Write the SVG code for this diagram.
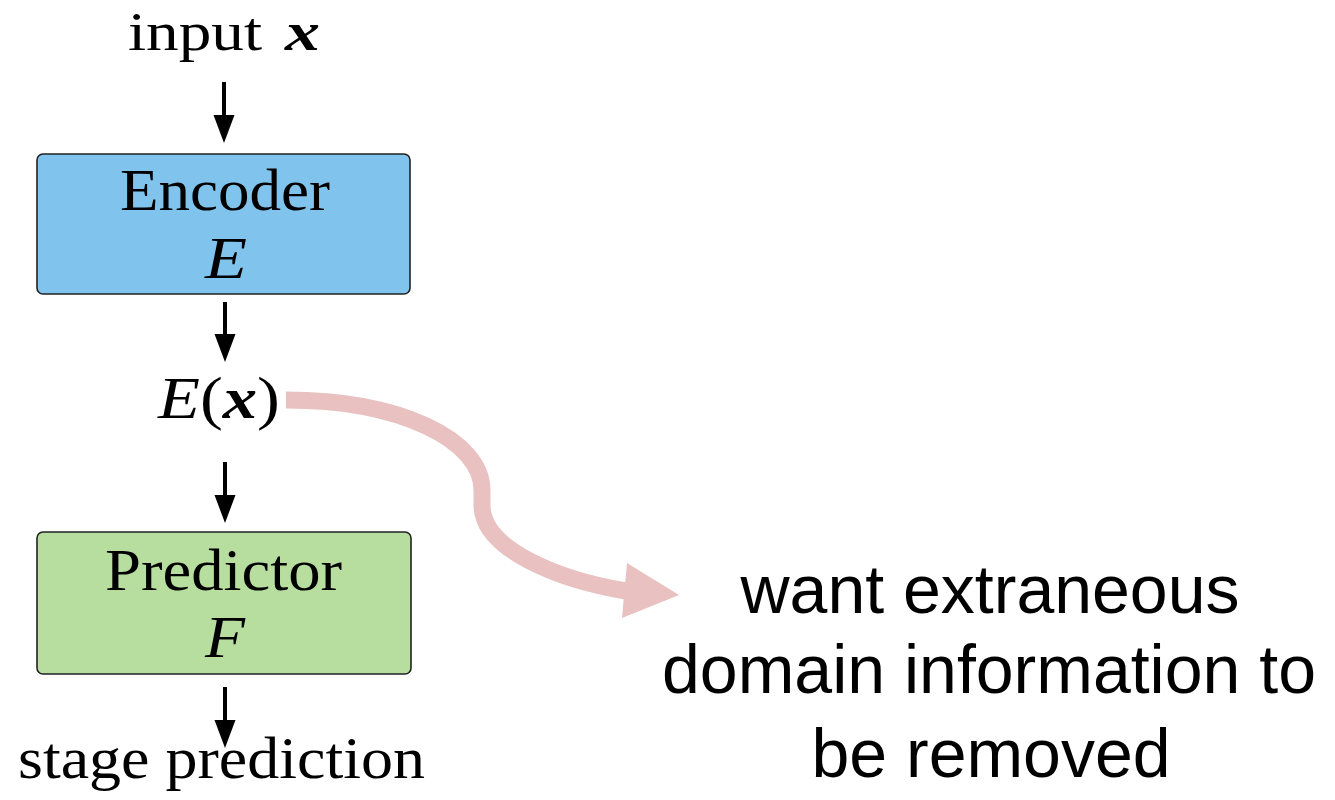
<svg xmlns="http://www.w3.org/2000/svg" width="1335" height="800" viewBox="0 0 1335 800">
  <defs>
    <style>
      .serif { font-family: "Liberation Serif", "Times New Roman", serif; font-size: 59px; fill: #000; }
      .small { font-size: 55px; }
      .it { font-style: italic; }
      .bi { font-style: italic; font-weight: bold; }
      .sans { font-family: "Liberation Sans", Arial, sans-serif; font-size: 68px; fill: #000; text-anchor: middle; }
      .box { stroke: #222; stroke-width: 1.6; }
      .shaft { stroke: #000; stroke-width: 4; fill: none; }
      .head { fill: #000; }
    </style>
  </defs>
  <rect width="1335" height="800" fill="#fff"/>

  <!-- input label -->
  <g id="input">
    <text class="serif small" x="128" y="50" textLength="134" lengthAdjust="spacingAndGlyphs">input</text>
    <text class="serif small bi" x="285" y="50" textLength="35" lengthAdjust="spacingAndGlyphs">x</text>
  </g>

  <!-- encoder block -->
  <g id="encoder">
    <rect class="box" x="37" y="154" width="373" height="140" rx="6" fill="#80c4ed"/>
    <text class="serif" x="120" y="210" textLength="210" lengthAdjust="spacingAndGlyphs">Encoder</text>
    <text class="serif it" x="205" y="278" textLength="42" lengthAdjust="spacingAndGlyphs">E</text>
  </g>

  <!-- latent representation -->
  <g id="latent">
    <text class="serif" x="158" y="418" textLength="122" lengthAdjust="spacingAndGlyphs"><tspan class="it">E</tspan>(<tspan class="bi">x</tspan>)</text>
  </g>

  <!-- predictor block -->
  <g id="predictor">
    <rect class="box" x="37" y="532" width="374" height="142" rx="6" fill="#b7dd9f"/>
    <text class="serif" x="105" y="590" textLength="237" lengthAdjust="spacingAndGlyphs">Predictor</text>
    <text class="serif it" x="205" y="657" textLength="40" lengthAdjust="spacingAndGlyphs">F</text>
  </g>

  <!-- output label -->
  <g id="output">
    <text class="serif" x="18" y="778" textLength="407" lengthAdjust="spacingAndGlyphs">stage prediction</text>
  </g>

  <!-- note on the right -->
  <g id="note">
    <text class="sans" x="990" y="613">want extraneous</text>
    <text class="sans" x="989" y="693">domain information to</text>
    <text class="sans" x="991" y="777">be removed</text>
  </g>

  <!-- connectors -->
  <g id="connectors">
    <line class="shaft" x1="224" y1="82" x2="224" y2="118"/>
    <polygon class="head" points="213.5,115 234.5,115 224,143"/>

    <line class="shaft" x1="225" y1="302" x2="225" y2="337"/>
    <polygon class="head" points="214.5,334 235.5,334 225,362"/>

    <line class="shaft" x1="225" y1="462" x2="225" y2="498"/>
    <polygon class="head" points="214.5,495 235.5,495 225,523"/>

    <line class="shaft" x1="225" y1="687" x2="225" y2="723"/>
    <polygon class="head" points="214.5,720 235.5,720 225,748"/>

    <!-- curved pink arrow from E(x) to the note -->
    <path d="M286,400 C400,400 482,440 482,490 L482,505 C482,550 560,580 626,591" fill="none" stroke="#e8c1c0" stroke-width="17"/>
    <polygon points="627,563 679,595 622,618" fill="#e8c1c0"/>
  </g>
</svg>
